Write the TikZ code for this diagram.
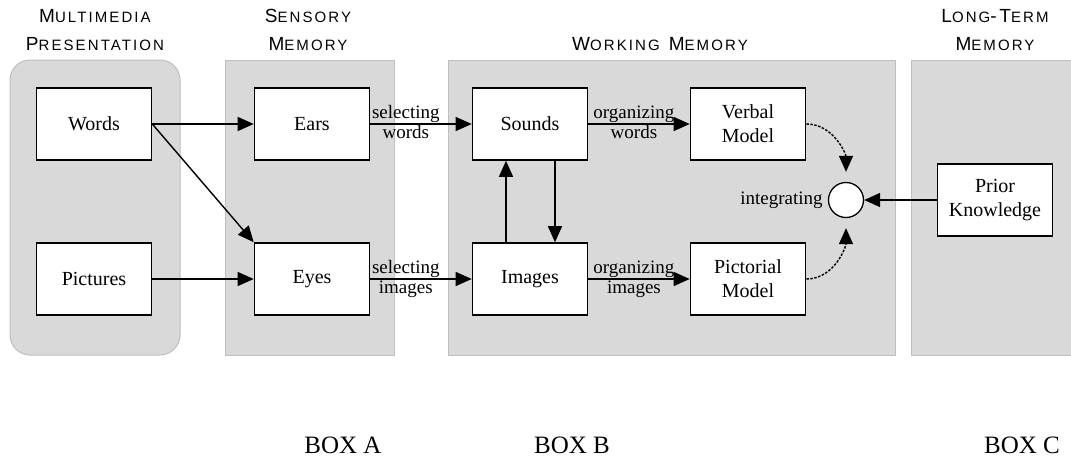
\documentclass[tikz,border=0pt]{standalone}
\usepackage{fontspec}
\setmainfont{Liberation Serif}
\newfontfamily\hdrfont[LetterSpace=14]{Liberation Sans}
\usetikzlibrary{arrows.meta}

\newcommand{\hdr}[2]{{\fontsize{19}{20}\selectfont #1}{\fontsize{15}{20}\selectfont #2}}

\begin{document}
\begin{tikzpicture}[x=1pt, y=-1pt,
  panel/.style={fill=gray!30, draw=gray!50, line width=1pt},
  box/.style={draw, fill=white, line width=1.6pt, minimum width=115pt, minimum height=72pt,
    align=center, inner sep=2pt, font=\fontsize{20}{24}\selectfont},
  hdrtext/.style={anchor=base, inner sep=0pt, font=\hdrfont},
  lbl/.style={inner sep=1pt, font=\fontsize{19}{22}\selectfont},
  arr/.style={-{Triangle[length=16pt, width=14pt]}, line width=1.4pt},
  darr/.style={arr, dash pattern=on 2.5pt off 1.5pt, shorten >=10pt}
  ]

   \useasboundingbox (0,0) rectangle (1071,459);

   \def\yt{124}; % top row
   \def\yb{279}; % bottom row
   \def\ym{200}; % middle row

   \def\xa{94};
   \def\xb{312};
   \def\xc{530};
   \def\xd{748};

   % panels
   \filldraw[panel, rounded corners=20pt] (10,60) rectangle (180,355);
   \filldraw[panel] (225,60) rectangle (394,355);
   \filldraw[panel] (448,60) rectangle (895,355);
   \filldraw[panel] (911,60) rectangle (1075,355);

   % headings
   \node[hdrtext] (hmulti) at (95,22) {\hdr{M}{ULTIMEDIA}};
   \node[hdrtext] (hpres) at (95,50) {\hdr{P}{RESENTATION}};
   \node[hdrtext] (hsens) at (308,22) {\hdr{S}{ENSORY}};
   \node[hdrtext] (hsmem) at (308,50) {\hdr{M}{EMORY}};
   \node[hdrtext] (hwork) at (660,50) {\hdr{W}{ORKING}\hspace{9pt}\hdr{M}{EMORY}};
   \node[hdrtext] (hlong) at (995,22) {\hdr{L}{ONG}\hdr{-T}{ERM}};
   \node[hdrtext] (hlmem) at (995,50) {\hdr{M}{EMORY}};

   % boxes
   \node[box] (words) at (\xa,\yt) {Words};
   \node[box] (pictures) at (\xa,\yb) {Pictures};
   \node[box] (ears) at (\xb,\yt) {Ears};
   \node[box] (eyes) at (\xb,\yb) {Eyes};
   \node[box] (sounds) at (\xc,\yt) {Sounds};
   \node[box] (images) at (\xc,\yb) {Images};
   \node[box] (verbal) at (\xd,\yt) {Verbal\\Model};
   \node[box] (pictorial) at (\xd,\yb) {Pictorial\\Model};
   \node[box] (prior) at (995,\ym) {Prior\\Knowledge};
   \node[draw, circle, fill=white, line width=1.3pt, minimum size=35pt, inner sep=0pt] (integ) at (846,\ym) {};
   \node[lbl, left=4pt] (integlbl) at (integ.west) {integrating};

   % arrows
   \draw[arr] (words) -- (ears);
   \draw[arr] (words.east) -- (eyes.north west);
   \draw[arr] (pictures) -- (eyes);

   \draw[arr] (ears) -- node[lbl, above, pos=0.35] {selecting} node[lbl, below, pos=0.35] {words} (sounds);
   \draw[arr] (eyes) -- node[lbl, above, pos=0.35] {selecting} node[lbl, below, pos=0.35] {images} (images);
   \draw[arr] (sounds) -- node[lbl, above, pos=0.45] {organizing} node[lbl, below, pos=0.45] {words} (verbal);
   \draw[arr] (images) -- node[lbl, above, pos=0.45] {organizing} node[lbl, below, pos=0.45] {images} (pictorial);

   \draw[arr] ([xshift=-24pt]images.north) -- ([xshift=-24pt]sounds.south);
   \draw[arr] ([xshift=25pt]sounds.south) -- ([xshift=25pt]images.north);

   \draw[darr] (verbal.east) to[out=0, in=90] (integ.north);
   \draw[darr] (pictorial.east) to[out=0, in=-90] (integ.south);
   \draw[arr] (prior) -- (integ);

   % box labels
   \node[anchor=base, font=\fontsize{25}{28}\selectfont] (boxa) at (343,453) {BOX A};
   \node[anchor=base, font=\fontsize{25}{28}\selectfont] (boxb) at (572,453) {BOX B};
   \node[anchor=base, font=\fontsize{25}{28}\selectfont] (boxc) at (1022,453) {BOX C};

\end{tikzpicture}
\end{document}
